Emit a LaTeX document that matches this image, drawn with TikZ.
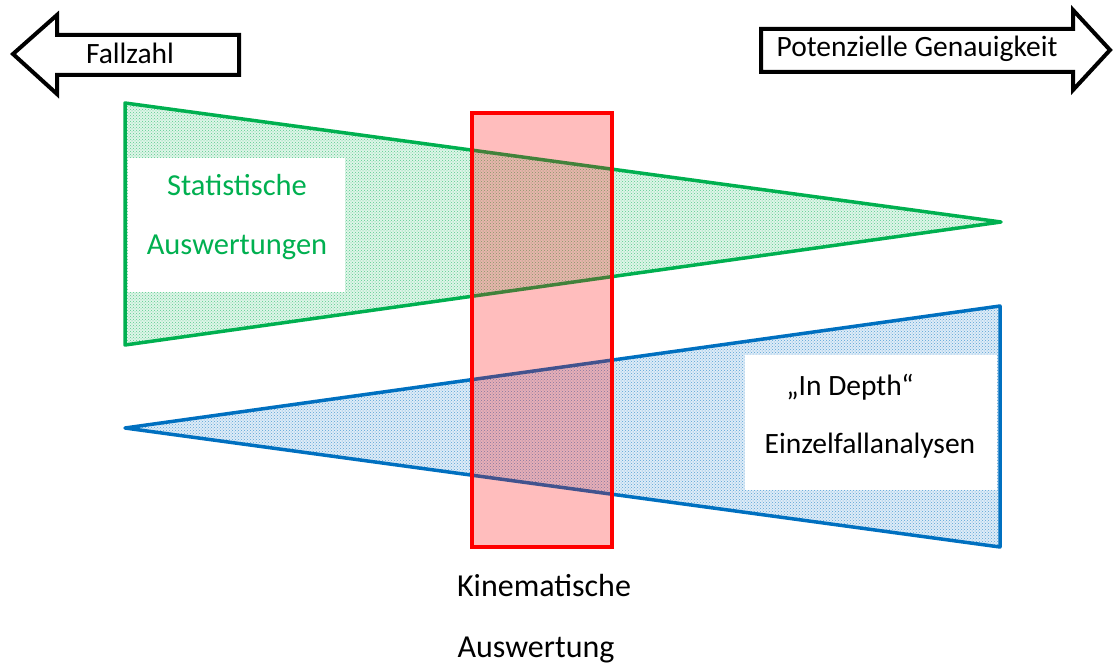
\documentclass[tikz,border=0pt]{standalone}
\usepackage{fontspec}
\setmainfont{Carlito}
\usetikzlibrary{patterns}
\definecolor{gr}{RGB}{0,176,80}
\definecolor{bl}{RGB}{0,112,192}
\definecolor{rd}{RGB}{255,0,0}
\begin{document}
\begin{tikzpicture}[x=1pt,y=-1pt,
  lbl/.style={font=\fontsize{29.5}{31}\selectfont, inner sep=0pt, anchor=center},
  biglbl/.style={font=\fontsize{32}{34}\selectfont, inner sep=0pt, anchor=center},
  bigarrow/.style={draw=black, line width=4pt, fill=white, line join=miter},
  wedge/.style={line width=3.5pt, line join=round},
  whitebox/.style={fill=white, draw=none},
  ]
\useasboundingbox[fill=white] (0,0) rectangle (1115,666);

% direction arrows
\draw[bigarrow] (13,54) -- (57,15) -- (57,35) -- (239,35) -- (239,75) -- (57,75) -- (57,94) -- cycle;
\node[lbl] (fallzahl) at (130,53) {Fallzahl};
\draw[bigarrow] (761,29) -- (1073,29) -- (1073,10) -- (1110,50) -- (1073,90) -- (1073,72) -- (761,72) -- cycle;
\node[lbl] (genau) at (917,49) {Potenzielle Genauigkeit};

% green wedge
\fill[gr!13] (125,103) -- (1001,222) -- (125,345) -- cycle;
\fill[pattern=crosshatch dots, pattern color=gr!65] (125,103) -- (1001,222) -- (125,345) -- cycle;
\draw[wedge, draw=gr] (125,103) -- (1001,222) -- (125,345) -- cycle;
\fill[whitebox] (128,158) rectangle (345,292);
\node[lbl, font=\fontsize{30.5}{32}\selectfont, text=gr] (stat1) at (237,185) {Statistische};
\node[lbl, font=\fontsize{30.5}{32}\selectfont, text=gr] (stat2) at (237,247) {Auswertungen};

% blue wedge
\fill[bl!13] (125,428) -- (1000,306) -- (1000,547) -- cycle;
\fill[pattern=crosshatch dots, pattern color=bl!65] (125,428) -- (1000,306) -- (1000,547) -- cycle;
\draw[wedge, draw=bl] (125,428) -- (1000,306) -- (1000,547) -- cycle;
\fill[whitebox] (745,355) rectangle (997,490);
\node[lbl] (depth1) at (850,387) {„In Depth“};
\node[lbl] (depth2) at (870,446) {Einzelfallanalysen};

% red overlay
\draw[draw=rd, line width=3.5pt, fill=rd, fill opacity=0.26] (472,113) rectangle (612,547);
\node[biglbl] (kin1) at (544,586) {Kinematische};
\node[biglbl] (kin2) at (536,650) {Auswertung};
\end{tikzpicture}
\end{document}
